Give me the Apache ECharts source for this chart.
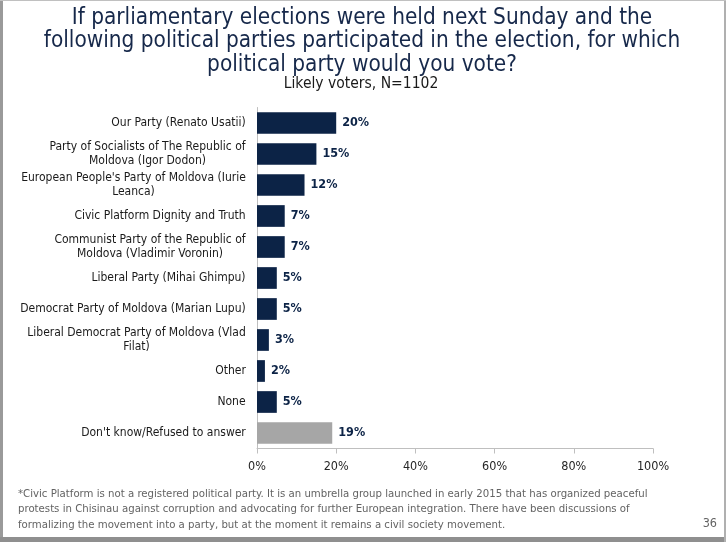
<!DOCTYPE html>
<html>
<head>
<meta charset="utf-8">
<script src="https://cdn.jsdelivr.net/npm/echarts@6/dist/echarts.min.js"></script>
<style>
  html, body { margin: 0; padding: 0; background: #fff; }
  #chart { width: 726px; height: 542px; }
</style>
</head>
<body>
<div id="chart"></div>
<script>
const parties = [
  'Our Party (Renato Usatii)',
  'Party of Socialists of The Republic of\nMoldova (Igor Dodon)',
  'European People\'s Party of Moldova (Iurie\nLeanca)',
  'Civic Platform Dignity and Truth',
  'Communist Party of the Republic of\nMoldova (Vladimir Voronin)',
  'Liberal Party (Mihai Ghimpu)',
  'Democrat Party of Moldova (Marian Lupu)',
  'Liberal Democrat Party of Moldova (Vlad\nFilat)',
  'Other',
  'None',
  'Don\'t know/Refused to answer'
]
const shares = [20, 15, 12, 7, 7, 5, 5, 3, 2, 5, 19]
const xTicks = [0, 20, 40, 60, 80, 100]

const navy = '#0c2346'
const grey = '#a6a6a6'
const labelFont = '12px "DejaVu Sans Condensed"'
const footnote = '*Civic Platform is not a registered political party. It is an umbrella group launched in early 2015 that has organized peaceful\n' +
  'protests in Chisinau against corruption and advocating for further European integration. There have been discussions of\n' +
  'formalizing the movement into a party, but at the moment it remains a civil society movement.'

// wrapped labels have their lines centred inside the block, so give each a box as wide as its longest line
const ctx = document.createElement('canvas').getContext('2d')
ctx.font = labelFont
const rich = {}
parties.forEach((p, i) => {
  const w = Math.max(...p.split('\n').map((s) => ctx.measureText(s).width))
  rich['l' + i] = { width: Math.ceil(w), align: 'center', fontSize: 12, lineHeight: 14.5, color: '#1a1a1a', fontFamily: 'DejaVu Sans Condensed' }
})

const chart = echarts.init(document.getElementById('chart'))

chart.setOption({
  animation: false,
  title: [
    {
      text: 'If parliamentary elections were held next Sunday and the\nfollowing political parties participated in the election, for which\npolitical party would you vote?',
      left: 362,
      top: 6,
      padding: 0,
      textAlign: 'center',
      textStyle: {
        fontFamily: 'DejaVu Sans Condensed, sans-serif',
        fontSize: 22.4,
        fontWeight: 'normal',
        color: '#16284a',
        lineHeight: 23.5
      }
    },
    {
      text: 'Likely voters, N=1102',
      left: 361,
      top: 76,
      padding: 0,
      textAlign: 'center',
      textStyle: {
        fontFamily: 'DejaVu Sans Condensed, sans-serif',
        fontSize: 15.5,
        fontWeight: 'normal',
        color: '#1a1a1a'
      }
    }
  ],
  grid: { left: 257, right: 73, top: 107.5, bottom: 93.5, containLabel: false },
  xAxis: {
    type: 'value',
    min: 0,
    max: 100,
    interval: 20,
    splitLine: { show: false },
    axisLine: { show: true, lineStyle: { color: '#bfbfbf' } },
    axisTick: { show: true, length: 5, lineStyle: { color: '#bfbfbf' } },
    axisLabel: {
      formatter: (v) => xTicks.includes(v) ? v + '%' : '',
      color: '#262626',
      fontFamily: 'DejaVu Sans Condensed, sans-serif',
      fontSize: 12.5,
      margin: 12
    }
  },
  yAxis: {
    type: 'category',
    inverse: true,
    data: parties,
    axisLine: { show: true, lineStyle: { color: '#bfbfbf' } },
    axisTick: { show: false },
    axisLabel: {
      formatter: (v, i) => v.split('\n').map((s) => '{l' + i + '|' + s + '}').join('\n'),
      rich: rich,
      color: '#1a1a1a',
      fontFamily: 'DejaVu Sans Condensed, sans-serif',
      fontSize: 12,
      lineHeight: 14.5,
      align: 'right',
      margin: 11
    }
  },
  series: [
    {
      type: 'bar',
      barCategoryGap: '30%',
      data: shares.map((v, i) => ({
        value: v,
        itemStyle: { color: i === shares.length - 1 ? grey : navy }
      })),
      label: {
        show: true,
        position: 'right',
        distance: 6,
        formatter: '{c}%',
        color: navy,
        fontFamily: 'DejaVu Sans Condensed, sans-serif',
        fontWeight: 'bold',
        fontSize: 12.5
      }
    }
  ],
  graphic: [
    {
      type: 'text',
      left: 18,
      top: 486,
      style: {
        text: footnote,
        fill: '#636363',
        font: '11.3px "DejaVu Sans Condensed", sans-serif',
        lineHeight: 15.5
      }
    },
    {
      type: 'text',
      right: 9,
      top: 517,
      style: {
        text: '36',
        fill: '#636363',
        font: '12.5px "DejaVu Sans Condensed", sans-serif'
      }
    },
    { type: 'rect', shape: { x: 0, y: 0, width: 3, height: 542 }, style: { fill: '#9a9a9a' } },
    { type: 'rect', shape: { x: 0, y: 537, width: 726, height: 5 }, style: { fill: '#8f8f8f' } },
    { type: 'rect', shape: { x: 724, y: 0, width: 2, height: 542 }, style: { fill: '#b0b0b0' } },
    { type: 'rect', shape: { x: 0, y: 0, width: 726, height: 1 }, style: { fill: '#c0c0c0' } }
  ]
})
</script>
</body>
</html>
